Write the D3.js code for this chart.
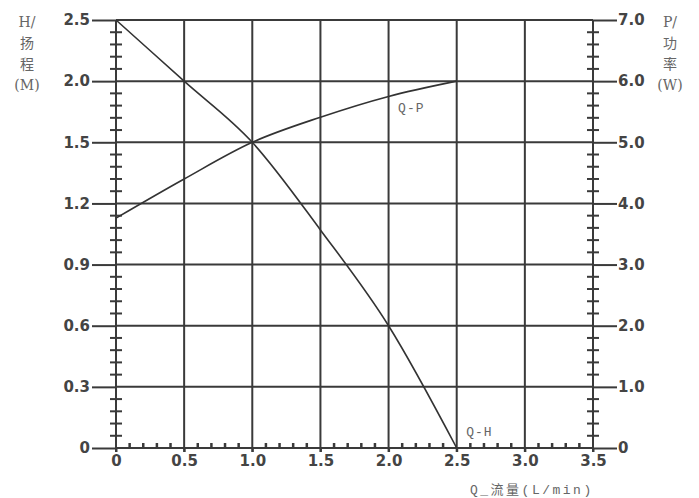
<!DOCTYPE html>
<meta charset="utf-8">
<head>
<style>
body { margin: 0; background: #fff; }
.tick text { font-family: "DejaVu Sans", Verdana, sans-serif; font-size: 15px; font-weight: bold; fill: #444; }
.tick line { stroke: #3a3a3a; stroke-width: 2; }
.lbl { font-family: "Liberation Mono", "Noto Sans CJK SC", monospace; font-size: 13px; fill: #666; }
.title { font-family: "DejaVu Serif", "Noto Sans CJK SC", serif; font-size: 14px; fill: #666; }
</style>
</head>
<body>
<script src="https://cdn.jsdelivr.net/npm/d3@7"></script>
<script>

// flow axis (L/min)
var flowTicks = [0, 0.5, 1.0, 1.5, 2.0, 2.5, 3.0, 3.5];
// head axis labels (M) - unevenly spaced on the grid
var headTicks = [0, 0.3, 0.6, 0.9, 1.2, 1.5, 2.0, 2.5];
// power axis (W)
var powerTicks = [0, 1, 2, 3, 4, 5, 6, 7];

// Q-H curve
var qhFlow = [0, 0.5, 1.0, 1.5, 2.0, 2.5];
var qhHead = [2.5, 2.0, 1.5, 1.07, 0.6, 0];

// Q-P curve
var qpFlow = [0, 0.5, 1.0, 1.5, 2.0, 2.5];
var qpPower = [3.76, 4.4, 5.0, 5.41, 5.75, 6.0];

var width = 699,
    height = 498,
    plotLeft = 116,
    plotRight = 593,
    plotTop = 20,
    plotBottom = 448;

var svg = d3.select("body").append("svg")
    .attr("width", width)
    .attr("height", height);

var x = d3.scaleLinear().domain([0, 3.5]).range([plotLeft, plotRight]);
var yP = d3.scaleLinear().domain([0, 7]).range([plotBottom, plotTop]);
// piecewise scale so head labels sit on the power grid lines
var yH = d3.scaleLinear().domain(headTicks).range(headTicks.map(function(d, i) { return yP(i); }));

var fmt = function(d) { return d === 0 ? "0" : d3.format(".1f")(d); };

// horizontal grid
svg.append("g").selectAll("line")
    .data(powerTicks)
  .enter().append("line")
    .attr("x1", plotLeft).attr("x2", plotRight)
    .attr("y1", function(d) { return yP(d); })
    .attr("y2", function(d) { return yP(d); })
    .attr("stroke", "#3a3a3a")
    .attr("stroke-width", 2);

// vertical grid + axis lines
svg.append("g").selectAll("line")
    .data(flowTicks)
  .enter().append("line")
    .attr("x1", function(d) { return x(d); })
    .attr("x2", function(d) { return x(d); })
    .attr("y1", plotTop).attr("y2", plotBottom + 4)
    .attr("stroke", "#3a3a3a")
    .attr("stroke-width", 2);

// left axis
var gl = svg.append("g")
    .attr("transform", "translate(" + plotLeft + ",0)")
    .call(d3.axisLeft(yH).tickValues(headTicks).tickFormat(fmt).tickSize(24).tickPadding(2));
gl.select(".domain").remove();

// right axis
var gr = svg.append("g")
    .attr("transform", "translate(" + plotRight + ",0)")
    .call(d3.axisRight(yP).tickValues(powerTicks).tickFormat(fmt).tickSize(24).tickPadding(1));
gr.select(".domain").remove();

// bottom axis
var gb = svg.append("g")
    .attr("transform", "translate(0," + plotBottom + ")")
    .call(d3.axisBottom(x).tickValues(flowTicks).tickFormat(fmt).tickSize(4).tickPadding(3));
gb.select(".domain").remove();

// minor ticks on side axes
var minorY = [];
powerTicks.slice(0, -1).forEach(function(d) {
  for (var j = 1; j < 5; j++) minorY.push(d + j / 5);
});
[plotLeft, plotRight].forEach(function(ax) {
  svg.append("g").selectAll("line")
      .data(minorY)
    .enter().append("line")
      .attr("x1", ax - 6).attr("x2", ax + 6)
      .attr("y1", function(d) { return yP(d); })
      .attr("y2", function(d) { return yP(d); })
      .attr("stroke", "#3a3a3a")
      .attr("stroke-width", 2);
});

// minor ticks on bottom axis
var minorX = [];
flowTicks.slice(0, -1).forEach(function(d) {
  for (var j = 1; j < 5; j++) minorX.push(d + j * 0.1);
});
svg.append("g").selectAll("line")
    .data(minorX)
  .enter().append("line")
    .attr("x1", function(d) { return x(d); })
    .attr("x2", function(d) { return x(d); })
    .attr("y1", plotBottom - 5).attr("y2", plotBottom)
    .attr("stroke", "#3a3a3a")
    .attr("stroke-width", 2.5);

// curves
var lineH = d3.line()
    .x(function(d, i) { return x(qhFlow[i]); })
    .y(function(d) { return yH(d); })
    .curve(d3.curveMonotoneX);

var lineP = d3.line()
    .x(function(d, i) { return x(qpFlow[i]); })
    .y(function(d) { return yP(d); })
    .curve(d3.curveMonotoneX);

svg.append("path")
    .attr("d", lineH(qhHead))
    .attr("fill", "none")
    .attr("stroke", "#333")
    .attr("stroke-width", 1.6);

svg.append("path")
    .attr("d", lineP(qpPower))
    .attr("fill", "none")
    .attr("stroke", "#333")
    .attr("stroke-width", 1.6);

// curve labels
svg.append("text").attr("class", "lbl")
    .attr("x", x(2.07)).attr("y", yP(5.5))
    .attr("letter-spacing", 1)
    .text("Q-P");

svg.append("text").attr("class", "lbl")
    .attr("x", x(2.57)).attr("y", yP(0.2))
    .attr("letter-spacing", 1)
    .text("Q-H");

// x title
svg.append("text").attr("class", "lbl")
    .attr("x", 470).attr("y", 494)
    .attr("letter-spacing", 2.5)
    .text("Q_流量(L/min)");

// side titles
var titleL = ["H/", "扬", "程", "(M)"];
var titleR = ["P/", "功", "率", "(W)"];
svg.append("g").selectAll("text")
    .data(titleL)
  .enter().append("text").attr("class", "title")
    .attr("x", 27)
    .attr("y", function(d, i) { return 27 + i * 21; })
    .attr("text-anchor", "middle")
    .text(function(d) { return d; });
svg.append("g").selectAll("text")
    .data(titleR)
  .enter().append("text").attr("class", "title")
    .attr("x", 670)
    .attr("y", function(d, i) { return 27 + i * 21; })
    .attr("text-anchor", "middle")
    .text(function(d) { return d; });

</script>
</body>
